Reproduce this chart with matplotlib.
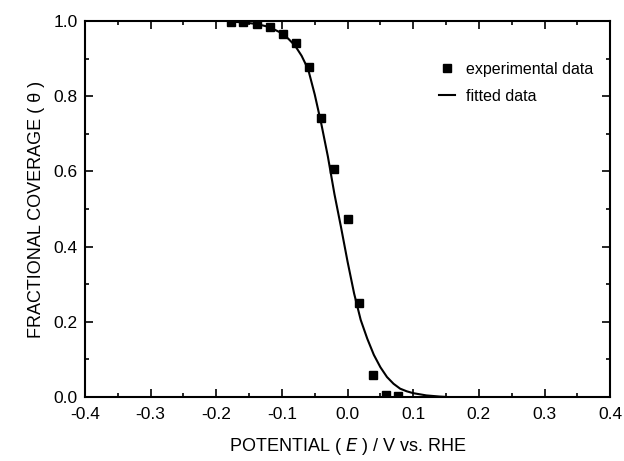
import matplotlib
matplotlib.use("Agg")
import matplotlib.pyplot as plt
from matplotlib.ticker import MultipleLocator

plt.rcParams['font.family'] = ['Liberation Sans', 'DejaVu Sans']

# experimental data
exp_E = [-0.177, -0.159, -0.138, -0.118, -0.099, -0.079, -0.059, -0.040,
         -0.020, 0.000, 0.018, 0.038, 0.059, 0.077]
exp_theta = [0.999, 0.997, 0.992, 0.984, 0.967, 0.943, 0.877, 0.743,
             0.606, 0.473, 0.249, 0.058, 0.005, 0.003]

# fitted curve
fit_E = [-0.18, -0.16, -0.14, -0.12, -0.10, -0.09, -0.08, -0.07, -0.06,
         -0.05, -0.04, -0.03, -0.02, -0.01, 0.00, 0.01, 0.02, 0.03, 0.04,
         0.05, 0.06, 0.07, 0.08, 0.09, 0.10, 0.12, 0.14, 0.15]
fit_theta = [0.999, 0.997, 0.993, 0.985, 0.968, 0.953, 0.935, 0.908, 0.872,
             0.805, 0.727, 0.640, 0.540, 0.452, 0.360, 0.275, 0.205, 0.155,
             0.112, 0.079, 0.053, 0.035, 0.022, 0.015, 0.010, 0.004, 0.001,
             0.0]

fig = plt.figure(figsize=(6.24, 4.61), dpi=100)
ax = fig.add_axes([0.136, 0.139, 0.842, 0.815])

ax.plot(fit_E, fit_theta, color='black', lw=1.5, label='fitted data', zorder=2)
ax.plot(exp_E, exp_theta, 's', color='black', ms=5.5, label='experimental data',
        zorder=3, linestyle='none')

ax.set_xlim(-0.4, 0.4)
ax.set_ylim(0.0, 1.0)
ax.xaxis.set_major_locator(MultipleLocator(0.1))
ax.xaxis.set_minor_locator(MultipleLocator(0.05))
ax.yaxis.set_major_locator(MultipleLocator(0.2))
ax.yaxis.set_minor_locator(MultipleLocator(0.1))
ax.set_xticklabels([f"{v:.1f}" for v in ax.get_xticks()])
ax.set_yticklabels([f"{v:.1f}" for v in ax.get_yticks()])
ax.tick_params(which='both', direction='in', top=True, right=True, labelsize=12.5,
               width=1.2)
ax.tick_params(which='major', length=6)
ax.tick_params(which='minor', length=3)
ax.tick_params(axis='x', which='major', pad=7)
ax.tick_params(axis='y', which='major', pad=5)
for s in ax.spines.values():
    s.set_linewidth(1.5)

ax.set_xlabel(r'POTENTIAL ( $\it{E}$ ) / V vs. RHE', fontsize=13, labelpad=10)
ax.set_ylabel('FRACTIONAL COVERAGE ( θ )', fontsize=13, labelpad=6)

h, l = ax.get_legend_handles_labels()
ax.legend([h[1], h[0]], [l[1], l[0]], loc='upper right', frameon=False,
          fontsize=11.5, handlelength=1.0, handletextpad=0.7, labelspacing=0.75,
          bbox_to_anchor=(0.995, 0.93))

fig.savefig('out.png', dpi=100)
